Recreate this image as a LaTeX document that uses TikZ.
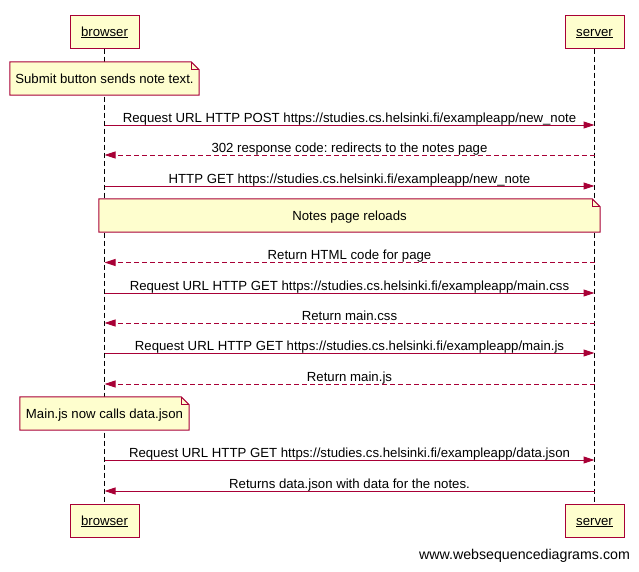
\documentclass[tikz,border=0pt]{standalone}
\usepackage{fontspec}
\setmainfont{Liberation Sans}
\usetikzlibrary{calc,arrows.meta}
\definecolor{wsdred}{HTML}{A80036}
\definecolor{wsdfill}{HTML}{FEFECE}
\tikzset{
	actor/.style={draw=wsdred, fill=wsdfill, line width=1pt, inner sep=0pt, text height=11.5pt, text depth=2.5pt, font=\fontsize{13.2pt}{15pt}\selectfont},
	lifeline/.style={line width=1pt, dash pattern=on 5pt off 3pt},
	msg/.style={draw=wsdred, line width=1pt, -{Triangle[length=11pt,width=7pt]}},
	reply/.style={msg, dash pattern=on 5pt off 3pt},
	label/.style={anchor=base, yshift=2.8pt, inner sep=0pt, text=black, font=\fontsize{13.2pt}{15pt}\selectfont},
	notetext/.style={inner sep=0pt, text height=11.5pt, text depth=2.5pt, font=\fontsize{13.2pt}{15pt}\selectfont}
}
\def\notebox(#1){\filldraw[draw=wsdred, fill=wsdfill, line width=1pt] (#1.north west) -- ($(#1.north east)+(-8,0)$) -- ($(#1.north east)+(0,8)$) -- (#1.south east) -- (#1.south west) -- cycle;
	\draw[wsdred, line width=0.8pt] ($(#1.north east)+(-8,0)$) -- ($(#1.north east)+(-8,8)$) -- ($(#1.north east)+(0,8)$);}

\begin{document}
\frenchspacing
\begin{tikzpicture}[x=1pt, y=-1pt]
		%%%%% START %%%%%
		\useasboundingbox (0,0) rectangle (639,571);
		
		\node[actor, minimum width=69, minimum height=33] (browserTop) at (104.5, 31.5) {\underline{browser}};
		\node[actor, minimum width=59, minimum height=33] (serverTop) at (594.5, 31.5) {\underline{server}};
		\node[actor, minimum width=69, minimum height=33] (browserBot) at (104.5, 520.5) {\underline{browser}};
		\node[actor, minimum width=59, minimum height=33] (serverBot) at (594.5, 520.5) {\underline{server}};
		
		\draw[lifeline] (browserTop) -- (browserBot);
		\draw[lifeline] (serverTop) -- (serverBot);
		
		\node[notetext, minimum width=189, minimum height=33] (note1) at (104.5, 78.5) {};
		\notebox(note1)
		\node[notetext] at (note1) {Submit button sends note text.};
		
		\coordinate (b1) at (104.5, 125); \coordinate (s1) at (594.5, 125);
		\draw[msg] (b1) -- node[label] {Request URL HTTP POST https://studies.cs.helsinki.fi/exampleapp/new\_note} (s1);
		
		\coordinate (b2) at (104.5, 155); \coordinate (s2) at (594.5, 155);
		\draw[reply] (s2) -- node[label] {302 response code: redirects to the notes page} (b2);
		
		\coordinate (b3) at (104.5, 186); \coordinate (s3) at (594.5, 186);
		\draw[msg] (b3) -- node[label] {HTTP GET https://studies.cs.helsinki.fi/exampleapp/new\_note} (s3);
		
		\node[notetext, minimum width=501, minimum height=33] (note2) at (349.5, 215.5) {};
		\notebox(note2)
		\node[notetext] at (note2) {Notes page reloads};
		
		\coordinate (b4) at (104.5, 262.5); \coordinate (s4) at (594.5, 262.5);
		\draw[reply] (s4) -- node[label] {Return HTML code for page} (b4);
		
		\coordinate (b5) at (104.5, 293); \coordinate (s5) at (594.5, 293);
		\draw[msg] (b5) -- node[label] {Request URL HTTP GET https://studies.cs.helsinki.fi/exampleapp/main.css} (s5);
		
		\coordinate (b6) at (104.5, 323); \coordinate (s6) at (594.5, 323);
		\draw[reply] (s6) -- node[label] {Return main.css} (b6);
		
		\coordinate (b7) at (104.5, 353); \coordinate (s7) at (594.5, 353);
		\draw[msg] (b7) -- node[label] {Request URL HTTP GET https://studies.cs.helsinki.fi/exampleapp/main.js} (s7);
		
		\coordinate (b8) at (104.5, 384); \coordinate (s8) at (594.5, 384);
		\draw[reply] (s8) -- node[label] {Return main.js} (b8);
		
		\node[notetext, minimum width=169, minimum height=33] (note3) at (104.5, 413.5) {};
		\notebox(note3)
		\node[notetext] at (note3) {Main.js now calls data.json};
		
		\coordinate (b9) at (104.5, 460); \coordinate (s9) at (594.5, 460);
		\draw[msg] (b9) -- node[label] {Request URL HTTP GET https://studies.cs.helsinki.fi/exampleapp/data.json} (s9);
		
		\coordinate (b10) at (104.5, 491); \coordinate (s10) at (594.5, 491);
		\draw[msg] (s10) -- node[label] {Returns data.json with data for the notes.} (b10);
		
		\node[inner sep=0pt, font=\fontsize{14.2pt}{17pt}\selectfont] (watermark) at (524.5, 556) {www.websequencediagrams.com};
		
		%%%%% END %%%%%
	\end{tikzpicture}
\end{document}
